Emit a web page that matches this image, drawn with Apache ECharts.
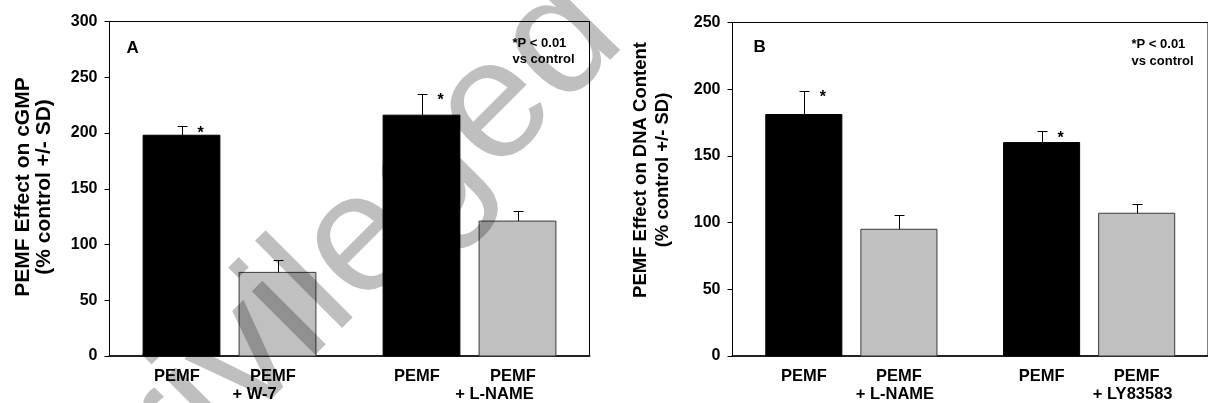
<!DOCTYPE html>
<html><head><meta charset="utf-8">
<script src="https://cdn.jsdelivr.net/npm/echarts@6/dist/echarts.min.js"></script>
<style>html,body{margin:0;padding:0;background:#fff}#c{width:1208px;height:403px}</style>
</head><body><div id="c"></div>
<script>
// ---- data ----
const categoriesA = ['PEMF', 'PEMF\n+ W-7', 'PEMF', 'PEMF\n+ L-NAME'];
const meanA = [198, 75, 216, 121];
const sdA = [8, 11, 19, 9];
const sigA = [1, 0, 1, 0];

const categoriesB = ['PEMF', 'PEMF\n+ L-NAME', 'PEMF', 'PEMF\n+ LY83583'];
const meanB = [181, 95, 160, 107];
const sdB = [18, 11, 8.5, 7];
const sigB = [1, 0, 1, 0];

const ticksA = [0, 50, 100, 150, 200, 250, 300];
const ticksB = [0, 50, 100, 150, 200, 250];

const titleA = ['PEMF Effect on cGMP', '(% control +/- SD)'];
const titleB = ['PEMF Effect on DNA Content', '(% control +/- SD)'];
const panelA = 'A';
const panelB = 'B';
const noteLines = ['*P < 0.01', 'vs control'];
const watermark = 'Privileged';

// ---- layout helpers ----
const FF = '"Liberation Sans", Arial, Helvetica, sans-serif';
// pairs of bars, with an extra half-slot gap between pairs
function slot(i) { return 1 + i + 0.5 * Math.floor(i / 2); }

function buildData(means, sds, sigs) {
  return means.map((m, i) => [slot(i), m, sds[i], sigs[i], i]);
}

function renderBars(params, api) {
  const x = api.value(0), m = api.value(1), sd = api.value(2), sig = api.value(3), idx = api.value(4);
  const base = api.coord([x, 0]);
  const top = api.coord([x, m]);
  const et = api.coord([x, m + sd]);
  const w = api.size([0.8, 0])[0];
  const dark = idx % 2 === 0;
  const cx = Math.round(top[0]) + 0.5;
  const ey = Math.round(et[1]) + 0.5;
  const children = [
    { type: 'rect', shape: { x: base[0] - w / 2, y: top[1], width: w, height: base[1] - top[1] },
      style: { fill: dark ? '#000' : '#c0c0c0', stroke: dark ? '#000' : '#3a3a3a', lineWidth: 1 } },
    { type: 'line', shape: { x1: cx, y1: top[1], x2: cx, y2: ey },
      style: { stroke: '#000', lineWidth: 1 } },
    { type: 'line', shape: { x1: cx - 5, y1: ey, x2: cx + 5, y2: ey },
      style: { stroke: '#000', lineWidth: 1 } }
  ];
  if (sig) {
    children.push({ type: 'text', x: top[0] + 19, y: et[1] + 7,
      style: { text: '*', fill: '#000', fontSize: 16, fontWeight: 'bold', fontFamily: FF,
               align: 'center', verticalAlign: 'middle' } });
  }
  return { type: 'group', children };
}

function xAxisFor(gi, cats, pad1, pad2) {
  const vals = cats.map((_, i) => slot(i));
  const tok = { fontSize: 16.5, fontWeight: 'bold', color: '#000', fontFamily: FF, lineHeight: 18 };
  return {
    gridIndex: gi, type: 'value', min: 0.25, max: 5.25,
    axisLine: { show: true, lineStyle: { color: '#222', width: 2 } },
    axisTick: { show: false }, splitLine: { show: false },
    axisLabel: {
      customValues: vals,
      formatter: v => {
        const k = vals.findIndex(s => Math.abs(s - v) < 1e-6);
        if (k < 0) return '';
        const lines = cats[k].split('\n');
        return lines.map((t, j) => '{' + (j === 0 ? 'a' : 'b') + '|' + t + '}').join('\n');
      },
      rich: {
        a: Object.assign({ padding: [0, pad1, 0, 0] }, tok),
        b: Object.assign({ padding: [0, pad2, 0, 0] }, tok)
      },
      fontSize: 16.5, fontWeight: 'bold', color: '#000', fontFamily: FF, lineHeight: 18, margin: 11
    }
  };
}

function yAxisFor(gi, ticks) {
  return {
    gridIndex: gi, type: 'value', min: ticks[0], max: ticks[ticks.length - 1], interval: ticks[1] - ticks[0],
    axisLine: { show: true, lineStyle: { color: '#000', width: 1 } },
    axisTick: { show: true, inside: false, length: 5, lineStyle: { color: '#000', width: 1 } },
    splitLine: { show: false },
    axisLabel: { fontSize: 16, fontWeight: 'bold', color: '#000', fontFamily: FF, margin: 12 }
  };
}

// watermark placement: baseline start point and rotation (45 deg, reading upward)
const wmSize = 170;
const wmStart = [108.8, 578.3];
const wmShift = 0.3465 * wmSize / Math.SQRT2; // from 'middle' anchor to alphabetic baseline

const chart = echarts.init(document.getElementById('c'), null, { renderer: 'canvas' });
chart.setOption({
  animation: false,
  backgroundColor: '#fff',
  grid: [
    { left: 109.5, top: 21.5, width: 480, height: 335, show: true, borderColor: '#000', borderWidth: 1 },
    { left: 732.5, top: 22.5, width: 480, height: 335, show: true, borderColor: '#000', borderWidth: 1 }
  ],
  xAxis: [xAxisFor(0, categoriesA, 9, 46), xAxisFor(1, categoriesB, 0, 8)],
  yAxis: [yAxisFor(0, ticksA), yAxisFor(1, ticksB)],
  series: [
    { type: 'custom', xAxisIndex: 0, yAxisIndex: 0, renderItem: renderBars, data: buildData(meanA, sdA, sigA), clip: false },
    { type: 'custom', xAxisIndex: 1, yAxisIndex: 1, renderItem: renderBars, data: buildData(meanB, sdB, sigB), clip: false }
  ],
  graphic: [
    { type: 'text', x: 34, y: 187, rotation: Math.PI / 2,
      style: { text: titleA.join('\n'), fontSize: 21, fontWeight: 'bold', fontFamily: FF, lineHeight: 21,
               align: 'center', verticalAlign: 'middle', fill: '#000' } },
    { type: 'text', x: 652, y: 170, rotation: Math.PI / 2,
      style: { text: titleB.join('\n'), fontSize: 18.5, fontWeight: 'bold', fontFamily: FF, lineHeight: 22.5,
               align: 'center', verticalAlign: 'middle', fill: '#000' } },
    { type: 'text', x: 126.5, y: 48, style: { text: panelA, fontSize: 17, fontWeight: 'bold', fontFamily: FF,
               align: 'left', verticalAlign: 'middle', fill: '#000' } },
    { type: 'text', x: 753.5, y: 47, style: { text: panelB, fontSize: 17, fontWeight: 'bold', fontFamily: FF,
               align: 'left', verticalAlign: 'middle', fill: '#000' } },
    { type: 'text', x: 512.5, y: 51.5, style: { text: noteLines.join('\n'), fontSize: 13, fontWeight: 'bold', fontFamily: FF,
               lineHeight: 16.5, align: 'left', verticalAlign: 'middle', fill: '#000' } },
    { type: 'text', x: 1131.5, y: 53, style: { text: noteLines.join('\n'), fontSize: 13, fontWeight: 'bold', fontFamily: FF,
               lineHeight: 16.5, align: 'left', verticalAlign: 'middle', fill: '#000' } },
    { type: 'text', x: wmStart[0] - wmShift, y: wmStart[1] - wmShift, rotation: Math.PI / 4, z: 100, silent: true,
      style: { text: watermark, fontSize: wmSize, fontWeight: 'normal', fontFamily: FF,
               align: 'left', verticalAlign: 'middle', fill: 'rgba(0,0,0,0.25)' } }
  ]
});
</script>
</body></html>
